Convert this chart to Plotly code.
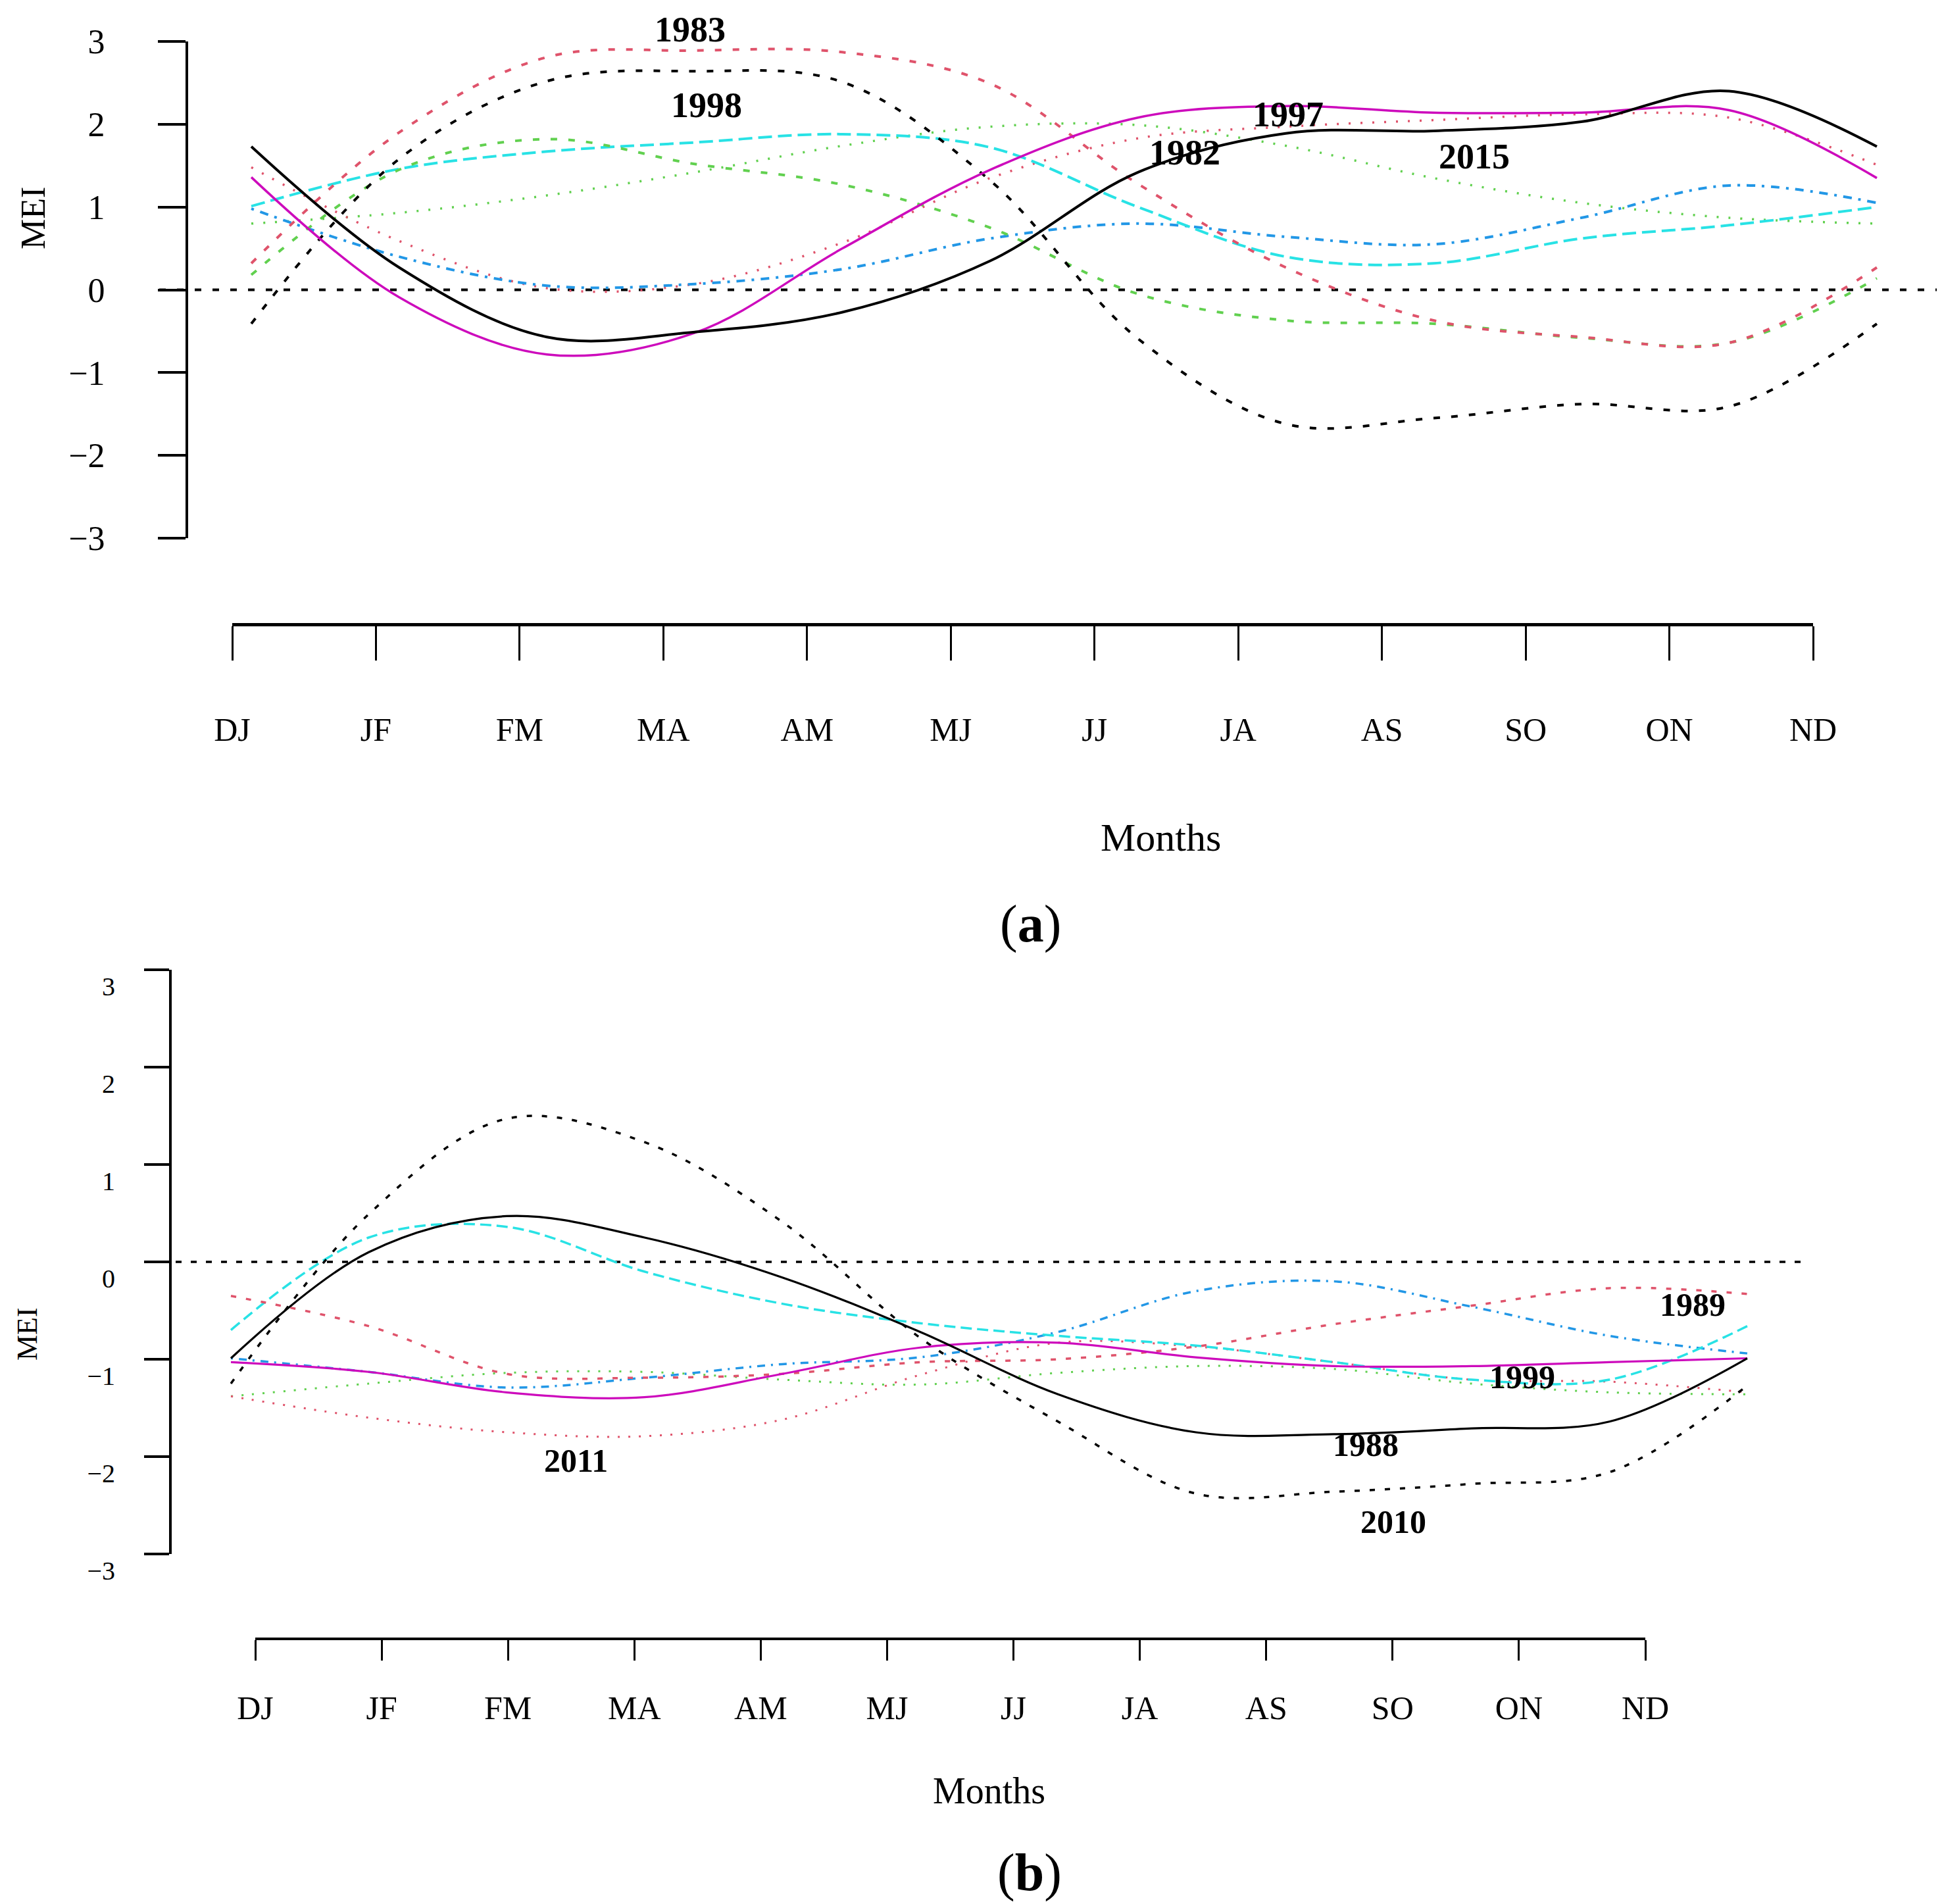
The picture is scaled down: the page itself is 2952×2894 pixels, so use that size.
import plotly.graph_objects as go

# ---------------- data ----------------
MONTHS = ["DJ", "JF", "FM", "MA", "AM", "MJ", "JJ", "JA", "AS", "SO", "ON", "ND"]
Y_TICKS = [-3, -2, -1, 0, 1, 2, 3]
Y_TICK_TEXT = ["\u22123", "\u22122", "\u22121", "0", "1", "2", "3"]

# panel (a) – El Nino years
a_black_solid = [1.73, 0.27, -0.57, -0.51, -0.27, 0.35, 1.42, 1.89, 1.92, 2.03, 2.40, 1.73]
a_magenta = [1.36, -0.09, -0.78, -0.52, 0.50, 1.45, 2.08, 2.22, 2.14, 2.14, 2.17, 1.35]
a_black_dotted = [-0.41, 1.58, 2.52, 2.64, 2.51, 1.32, -0.59, -1.62, -1.55, -1.38, -1.41, -0.41]
a_red_dashed = [0.32, 1.90, 2.81, 2.89, 2.87, 2.49, 1.28, 0.27, -0.37, -0.57, -0.64, 0.27]
a_green_dashed = [0.18, 1.45, 1.82, 1.52, 1.27, 0.75, -0.05, -0.37, -0.41, -0.58, -0.64, 0.14]
a_green_dotted = [0.80, 0.93, 1.14, 1.42, 1.74, 1.97, 1.99, 1.74, 1.35, 1.05, 0.87, 0.80]
a_red_dotted = [1.48, 0.59, 0.02, 0.07, 0.57, 1.35, 1.83, 1.97, 2.05, 2.12, 2.08, 1.51]
a_blue_dotdash = [0.98, 0.40, 0.05, 0.07, 0.25, 0.62, 0.80, 0.64, 0.55, 0.87, 1.26, 1.05]
a_cyan_longdash = [1.01, 1.46, 1.67, 1.78, 1.88, 1.72, 1.00, 0.40, 0.32, 0.62, 0.78, 1.00]
a_year_labels = ["1983", "1998", "1982", "1997", "2015"]

# panel (b) – La Nina years
b_black_solid = [-0.99, 0.10, 0.47, 0.25, -0.16, -0.72, -1.36, -1.75, -1.77, -1.71, -1.64, -0.99]
b_black_dotted = [-1.25, 0.49, 1.47, 1.23, 0.41, -0.78, -1.64, -2.38, -2.36, -2.28, -2.16, -1.27]
b_cyan_dashed = [-0.70, 0.25, 0.36, -0.10, -0.43, -0.63, -0.76, -0.86, -1.03, -1.21, -1.21, -0.66]
b_red_dashed = [-0.35, -0.66, -1.15, -1.19, -1.15, -1.03, -1.00, -0.87, -0.64, -0.45, -0.27, -0.33]
b_blue_dotdash = [-0.99, -1.13, -1.29, -1.19, -1.05, -0.98, -0.72, -0.30, -0.20, -0.46, -0.76, -0.94]
b_magenta = [-1.03, -1.13, -1.34, -1.39, -1.15, -0.88, -0.83, -0.98, -1.07, -1.07, -1.03, -0.99]
b_green_dotted = [-1.38, -1.25, -1.14, -1.13, -1.21, -1.26, -1.14, -1.07, -1.10, -1.25, -1.34, -1.36]
b_red_dotted = [-1.38, -1.60, -1.75, -1.79, -1.62, -1.16, -0.83, -0.87, -1.03, -1.21, -1.23, -1.34]
b_year_labels = ["2011", "1989", "1999", "1988", "2010"]

# ---------------- layout constants (pixels of the 2952 x 2894 canvas) ----------------
W, H = 2952, 2894
FONT = "Liberation Serif"
BLACK, RED, GREEN, BLUE, CYAN, MAGENTA = "#000000", "#DF536B", "#61D04F", "#2297E6", "#28E2E5", "#CD0BBC"


def fx(p):
    return p / W


def fy(p):
    return 1 - p / H


# panel (a) geometry
A_DATA_X0, A_DATA_X1 = 374, 2845
A_ZERO_X0, A_ZERO_X1 = 234, 2952
A_YAX_X, A_Y_TOP, A_Y_BOT = 276, 55, 810
A_TICKAX_Y, A_TICK_X0, A_TICK_X1 = 941, 345, 2748
A_LABEL_POS = [(1041, 37), (1066, 152), (1793, 224), (1950, 166), (2233, 230)]

# panel (b) geometry
B_DATA_X0, B_DATA_X1 = 343, 2648
B_ZERO_X0, B_ZERO_X1 = 213, 2730
B_YAX_X, B_Y_TOP, B_Y_BOT = 251, 1466, 2354
B_YLAB_SHIFT = 25
B_TICKAX_Y, B_TICK_X0, B_TICK_X1 = 2483, 380, 2493
B_LABEL_POS = [(867, 2212), (2565, 1975), (2306, 2085), (2068, 2188), (2110, 2305)]

n = len(MONTHS)
idx = list(range(n))


def month_range(x0, x1, zx0, zx1):
    step = (x1 - x0) / (n - 1)
    return [(zx0 - x0) / step, (zx1 - x0) / step]


a_range = month_range(A_DATA_X0, A_DATA_X1, A_ZERO_X0, A_ZERO_X1)
b_range = month_range(B_DATA_X0, B_DATA_X1, B_ZERO_X0, B_ZERO_X1)

fig = go.Figure()


def add_line(vals, color, dash, width, xa, ya):
    fig.add_trace(go.Scatter(
        x=idx, y=vals, mode="lines", xaxis=xa, yaxis=ya, showlegend=False,
        line=dict(color=color, dash=dash, width=width, shape="spline", smoothing=1.0),
        hoverinfo="skip"))


# ---- panel (a) ----
fig.add_trace(go.Scatter(x=a_range, y=[0, 0], mode="lines", xaxis="x", yaxis="y", showlegend=False,
                         line=dict(color=BLACK, dash="10px,17px", width=4), hoverinfo="skip"))
add_line(a_green_dotted, GREEN, "3px,15px", 3.5, "x", "y")
add_line(a_red_dotted, RED, "3px,15px", 3.5, "x", "y")
add_line(a_blue_dotdash, BLUE, "4px,10px,13px,10px", 4, "x", "y")
add_line(a_cyan_longdash, CYAN, "21px,9px", 4, "x", "y")
add_line(a_green_dashed, GREEN, "10px,17px", 4, "x", "y")
add_line(a_red_dashed, RED, "10px,17px", 4, "x", "y")
add_line(a_black_dotted, BLACK, "10px,17px", 4, "x", "y")
add_line(a_magenta, MAGENTA, "solid", 3.5, "x", "y")
add_line(a_black_solid, BLACK, "solid", 4, "x", "y")
fig.add_trace(go.Scatter(x=[], y=[], xaxis="x2", yaxis="y", showlegend=False))

# ---- panel (b) ----
fig.add_trace(go.Scatter(x=b_range, y=[0, 0], mode="lines", xaxis="x3", yaxis="y3", showlegend=False,
                         line=dict(color=BLACK, dash="9px,14px", width=3.5), hoverinfo="skip"))
add_line(b_green_dotted, GREEN, "3px,13px", 3, "x3", "y3")
add_line(b_red_dotted, RED, "3px,13px", 3, "x3", "y3")
add_line(b_blue_dotdash, BLUE, "3px,9px,12px,9px", 3.5, "x3", "y3")
add_line(b_cyan_dashed, CYAN, "17px,8px", 3.5, "x3", "y3")
add_line(b_red_dashed, RED, "8px,15px", 3.5, "x3", "y3")
add_line(b_black_dotted, BLACK, "8px,15px", 3.5, "x3", "y3")
add_line(b_magenta, MAGENTA, "solid", 3.2, "x3", "y3")
add_line(b_black_solid, BLACK, "solid", 3.2, "x3", "y3")
fig.add_trace(go.Scatter(x=[], y=[], xaxis="x4", yaxis="y3", showlegend=False))
fig.add_trace(go.Scatter(x=[], y=[], xaxis="x3", yaxis="y4", showlegend=False))

hidden_x = dict(visible=False, showgrid=False, zeroline=False, fixedrange=True)

fig.update_layout(
    width=W, height=H, margin=dict(l=0, r=0, t=0, b=0, pad=0, autoexpand=False),
    paper_bgcolor="white", plot_bgcolor="rgba(0,0,0,0)",
    font=dict(family=FONT, color="black"),
    xaxis=dict(hidden_x, domain=[fx(A_ZERO_X0), fx(A_ZERO_X1)], range=a_range, anchor="y"),
    yaxis=dict(domain=[fy(A_Y_BOT), fy(A_Y_TOP)], range=[-3, 3], anchor="free", position=fx(A_YAX_X),
               showline=True, linecolor="black", linewidth=4, ticks="outside", ticklen=42, tickwidth=4,
               tickcolor="black", tickvals=Y_TICKS, ticktext=Y_TICK_TEXT, showgrid=False, zeroline=False,
               tickfont=dict(size=52, family=FONT), ticklabelstandoff=70, automargin=False),
    xaxis2=dict(domain=[fx(A_TICK_X0), fx(A_TICK_X1)], range=[0, n - 1], anchor="free",
                position=fy(A_TICKAX_Y), showline=True, linecolor="black", linewidth=5,
                ticks="outside", ticklen=52, tickwidth=2.5, tickcolor="black",
                tickvals=idx, ticktext=MONTHS, showgrid=False, zeroline=False,
                tickfont=dict(size=50, family=FONT), ticklabelstandoff=62, automargin=False),
    xaxis3=dict(hidden_x, domain=[fx(B_ZERO_X0), fx(B_ZERO_X1)], range=b_range, anchor="y3"),
    yaxis3=dict(domain=[fy(B_Y_BOT), fy(B_Y_TOP)], range=[-3, 3], anchor="free", position=fx(B_YAX_X),
                showline=True, linecolor="black", linewidth=3.5, ticks="outside", ticklen=38, tickwidth=3.5,
                tickcolor="black", tickvals=Y_TICKS, showticklabels=False, showgrid=False, zeroline=False,
                automargin=False),
    # tick labels of panel (b) sit slightly below their ticks in the original
    yaxis4=dict(domain=[fy(B_Y_BOT + B_YLAB_SHIFT), fy(B_Y_TOP + B_YLAB_SHIFT)], range=[-3, 3],
                anchor="free", position=fx(B_YAX_X), showline=False, ticks="",
                tickvals=Y_TICKS, ticktext=Y_TICK_TEXT, showgrid=False, zeroline=False,
                tickfont=dict(size=40, family=FONT), ticklabelstandoff=84, automargin=False),
    xaxis4=dict(domain=[fx(B_TICK_X0), fx(B_TICK_X1)], range=[0, n - 1], anchor="free",
                position=fy(B_TICKAX_Y), showline=True, linecolor="black", linewidth=4,
                ticks="outside", ticklen=31, tickwidth=2.5, tickcolor="black",
                tickvals=idx, ticktext=MONTHS, showgrid=False, zeroline=False,
                tickfont=dict(size=50, family=FONT), ticklabelstandoff=29, automargin=False),
)

ann = []


def text(x, y, s, size, bold=False, angle=0):
    ann.append(dict(x=fx(x), y=fy(y), xref="paper", yref="paper", text=("<b>%s</b>" % s) if bold else s,
                    showarrow=False, xanchor="center", yanchor="middle", textangle=angle,
                    font=dict(family=FONT, size=size, color="black")))


for lab, (px_, py_) in zip(a_year_labels, A_LABEL_POS):
    text(px_, py_, lab, 54, bold=True)
for lab, (px_, py_) in zip(b_year_labels, B_LABEL_POS):
    text(px_, py_, lab, 50, bold=True)

text(42, 324, "MEI", 52, angle=-90)
text(1757, 1265, "Months", 60)
text(1558, 1396, "(<b>a</b>)", 80)
text(33, 2020, "MEI", 44, angle=-90)
text(1495, 2714, "Months", 56)
text(1557, 2838, "(<b>b</b>)", 80)

fig.update_layout(annotations=ann)
fig.write_html("out.html")
